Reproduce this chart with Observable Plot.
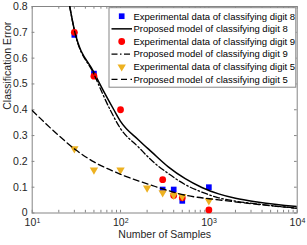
<!DOCTYPE html>
<html>
<head>
<meta charset="utf-8">
<script src="https://cdn.jsdelivr.net/npm/d3@7"></script>
<script src="https://cdn.jsdelivr.net/npm/@observablehq/plot@0.6"></script>
<style>
  html, body { margin: 0; padding: 0; background: white; }
  svg { display: block; }
</style>
</head>
<body>
<div id="chart"></div>
<script>
// ---- Experimental data ----
const samples8 = [30, 50, 300, 400, 500, 1000];
const error8   = [0.69, 0.54, 0.091, 0.091, 0.047, 0.10];

const samples9 = [30, 50, 100, 300, 400, 500, 1000];
const error9   = [0.70, 0.53, 0.40, 0.129, 0.068, 0.059, 0.012];

const samples5 = [30, 50, 100, 200, 300, 400, 500, 1000];
const error5   = [0.249, 0.167, 0.167, 0.097, 0.079, 0.069, 0.064, 0.048];

// ---- Proposed model curves ----
const model8N = [26.6, 30, 50, 84, 100, 160, 226, 350, 540, 833, 1290, 2000, 3680, 10000];
const model8E = [0.80, 0.71, 0.545, 0.40, 0.355, 0.283, 0.236, 0.178, 0.133, 0.099, 0.074, 0.057, 0.042, 0.025];

const model9N = [26.6, 30, 50, 77, 100, 160, 226, 350, 540, 833, 1290, 2000, 3680, 10000];
const model9E = [0.80, 0.708, 0.538, 0.397, 0.327, 0.255, 0.203, 0.152, 0.110, 0.081, 0.059, 0.046, 0.034, 0.019];

const model5N = [10, 20, 31, 50, 88, 100, 226, 540, 1290, 3680, 10000];
const model5E = [0.397, 0.30, 0.245, 0.198, 0.158, 0.150, 0.107, 0.069, 0.051, 0.033, 0.018];

// ---- Axis ticks ----
const xMajor = [10, 100, 1000, 10000];
const xExponents = ["1", "2", "3", "4"];
const xMinor = [20, 30, 40, 50, 60, 70, 80, 90,
                200, 300, 400, 500, 600, 700, 800, 900,
                2000, 3000, 4000, 5000, 6000, 7000, 8000, 9000];
const yTicks = [0, 0.1, 0.2, 0.3, 0.4, 0.5, 0.6, 0.7, 0.8];
const yTickLabels = ["0", "0.1", "0.2", "0.3", "0.4", "0.5", "0.6", "0.7", "0.8"];

const legendLabels = [
  "Experimental data of classifying digit 8",
  "Proposed model of classifying digit 8",
  "Experimental data of classifying digit 9",
  "Proposed model of classifying digit 9",
  "Experimental data of classifying digit 5",
  "Proposed model of classifying digit 5"
];

const zip = (a, b) => a.map((v, i) => ({n: v, e: b[i]}));
const exp8 = zip(samples8, error8), exp9 = zip(samples9, error9), exp5 = zip(samples5, error5);
const mod8 = zip(model8N, model8E), mod9 = zip(model9N, model9E), mod5 = zip(model5N, model5E);

const W = 307, H = 245;
const mL = 31.7, mR = 10.3, mT = 6, mB = 32.5;
const fw = W - mL - mR, fh = H - mT - mB;
const tl = 2.7;
const axisColor = "#858585";
const textColor = "#262626";
const yellow = "#EDB120";
const dashDot = "6,2.5,1.5,2.5";
const dashed = "6,3.5";

const plot = Plot.plot({
  width: W, height: H,
  marginLeft: mL, marginRight: mR, marginTop: mT, marginBottom: mB,
  style: {fontFamily: "'Liberation Sans', Arial, sans-serif", fontSize: "10.5px", color: textColor, background: "white", overflow: "visible"},
  x: {type: "log", domain: [10, 10000], axis: null},
  y: {domain: [0, 0.8], axis: null},
  marks: [
    // ticks inward
    Plot.tickX(xMajor.concat(xMinor), {x: d => d, insetTop: fh - tl, stroke: axisColor}),
    Plot.tickX(xMajor.concat(xMinor), {x: d => d, insetBottom: fh - tl, stroke: axisColor}),
    Plot.tickY(yTicks, {y: d => d, insetRight: fw - tl, stroke: axisColor}),
    Plot.tickY(yTicks, {y: d => d, insetLeft: fw - tl, stroke: axisColor}),
    Plot.frame({stroke: axisColor}),
    // y tick labels
    Plot.text(yTicks, {y: d => d, frameAnchor: "left", text: (d, i) => yTickLabels[i], textAnchor: "end", dx: -4.5, fontSize: 10.5, fill: textColor}),
    // x tick labels 10^k
    Plot.text(xMajor, {x: d => d, frameAnchor: "bottom", text: () => "10", dy: 13, dx: -1.8, fontSize: 10.5, fill: textColor}),
    Plot.text(xMajor, {x: d => d, frameAnchor: "bottom", text: (d, i) => xExponents[i], dy: 10, dx: 6.2, fontSize: 7, fill: textColor}),
    // axis labels
    Plot.text(["Number of Samples"], {frameAnchor: "bottom", dy: 24.8, fontSize: 10.5, fill: textColor}),
    Plot.text(["Classification Error"], {frameAnchor: "left", dx: -24.3, rotate: -90, fontSize: 10.5, fill: textColor}),
    // data
    Plot.dot(exp8, {x: "n", y: "e", symbol: "square", r: 3.2, fill: "#0000ff", stroke: "none"}),
    Plot.line(mod8, {x: "n", y: "e", curve: "monotone-x", stroke: "black", strokeWidth: 1.5, clip: true}),
    Plot.dot(exp9, {x: "n", y: "e", symbol: "circle", r: 3.4, fill: "#ff0000", stroke: "none"}),
    Plot.line(mod9, {x: "n", y: "e", curve: "monotone-x", stroke: "black", strokeWidth: 1.3, strokeDasharray: dashDot, clip: true}),
    Plot.dot(exp5, {x: "n", y: "e", symbol: "triangle", rotate: 180, r: 3.1, fill: yellow, stroke: "none"}),
    Plot.line(mod5, {x: "n", y: "e", curve: "monotone-x", stroke: "black", strokeWidth: 1.3, strokeDasharray: dashed, clip: true})
  ]
});

document.getElementById("chart").appendChild(plot);

// ---- Legend (inside the axes, upper right) ----
const svg = d3.select(plot);
const lg = svg.append("g").attr("font-family", "'Liberation Sans', Arial, sans-serif").attr("text-anchor", "start");
const lx = 109, ly = 7.7, lw = 186.8, lh = 79.5;
lg.append("rect").attr("x", lx).attr("y", ly).attr("width", lw).attr("height", lh)
  .attr("fill", "white").attr("stroke", axisColor).attr("stroke-width", 1);
const rowY = i => 16.2 + i * 12.65;
const symX = 121.7, lineX1 = 111.5, lineX2 = 132, textX = 133.5;
const symbols = [
  {type: d3.symbolSquare, r: 3.2, fill: "#0000ff", rot: 0},
  null,
  {type: d3.symbolCircle, r: 3.4, fill: "#ff0000", rot: 0},
  null,
  {type: d3.symbolTriangle, r: 3.1, fill: yellow, rot: 180},
  null
];
const lineStyles = [null, {w: 1.5, dash: null}, null, {w: 1.3, dash: dashDot}, null, {w: 1.3, dash: dashed}];
legendLabels.forEach((label, i) => {
  const y = rowY(i);
  if (symbols[i]) {
    const s = symbols[i];
    lg.append("path")
      .attr("d", d3.symbol(s.type, Math.PI * s.r * s.r)())
      .attr("transform", `translate(${symX},${y}) rotate(${s.rot})`)
      .attr("fill", s.fill);
  } else {
    const l = lineStyles[i];
    const ln = lg.append("line").attr("x1", lineX1).attr("x2", lineX2).attr("y1", y).attr("y2", y)
      .attr("stroke", "black").attr("stroke-width", l.w);
    if (l.dash) ln.attr("stroke-dasharray", l.dash);
  }
  lg.append("text").attr("x", textX).attr("y", y).attr("dy", "0.35em")
    .attr("text-anchor", "start")
    .attr("font-size", 9.5).attr("fill", "black").text(label);
});
</script>
</body>
</html>
